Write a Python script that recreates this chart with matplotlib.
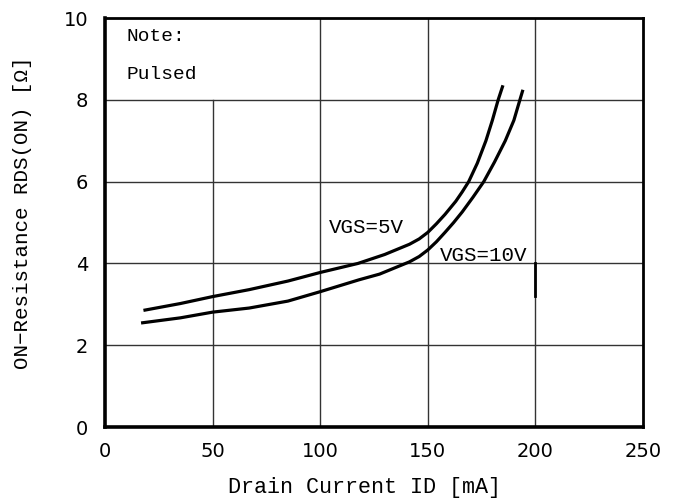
import matplotlib
matplotlib.use("Agg")
import matplotlib.pyplot as plt

# (VGS = 5 V, upper)
id_5v = [18.6, 35, 50, 67, 85, 100, 117.5, 130, 141.5, 146, 150, 154, 158, 163, 166, 169, 173, 177, 180, 182.7, 184.7]
r_5v = [2.86, 3.02, 3.19, 3.36, 3.57, 3.78, 4.00, 4.22, 4.47, 4.60, 4.76, 4.97, 5.20, 5.52, 5.75, 6.00, 6.45, 7.00, 7.50, 8.00, 8.32]

# VGS = 10 V, lower
id_10v = [17.5, 35, 50, 67, 85, 100, 118, 127.6, 141.5, 146, 150, 154, 158, 162, 166, 171, 176, 181, 186, 190, 192.8, 194]
r_10v = [2.55, 2.67, 2.81, 2.91, 3.08, 3.31, 3.60, 3.74, 4.04, 4.17, 4.33, 4.53, 4.76, 5.00, 5.26, 5.62, 6.00, 6.48, 7.00, 7.50, 8.00, 8.21]

x_ticks = [0, 50, 100, 150, 200, 250]
y_ticks = [0, 2, 4, 6, 8, 10]

mono = "Liberation Mono"

fig = plt.figure(figsize=(6.73, 5.03), dpi=100)
ax = fig.add_axes([0.156, 0.151, 0.7994, 0.813])

ax.set_xlim(0, 250)
ax.set_ylim(0, 10)

# grid drawn by hand, the x=50 line stops under the note box
gc = "#333333"
for yv in [2, 4, 6, 8]:
    ax.axhline(yv, color=gc, lw=1.0, zorder=1)
ax.axvline(50, ymax=0.8, color=gc, lw=1.0, zorder=1)
for xv in [100, 150, 200]:
    ax.axvline(xv, color=gc, lw=1.0, zorder=1)
ax.axvline(200, ymin=0.32, ymax=0.4, color="black", lw=2.0, zorder=1)

ax.plot(id_5v, r_5v, color="black", lw=2.3, zorder=3, solid_joinstyle="round")
ax.plot(id_10v, r_10v, color="black", lw=2.3, zorder=3, solid_joinstyle="round")

ax.text(104, 4.87, "VGS=5V", fontsize=15, family=mono, va="center", ha="left")
ax.text(155.5, 4.19, "VGS=10V", fontsize=15, family=mono, va="center", ha="left")

ax.text(10, 9.55, "Note:", fontsize=14, family=mono, va="center", ha="left")
ax.text(10, 8.62, "Pulsed", fontsize=14, family=mono, va="center", ha="left")

ax.set_xticks(x_ticks)
ax.set_yticks(y_ticks)
ax.tick_params(length=0, labelsize=14, pad=11)
ax.tick_params(axis="y", pad=12)

for s in ["left", "bottom"]:
    ax.spines[s].set_linewidth(2.6)
for s in ["top", "right"]:
    ax.spines[s].set_linewidth(2.0)

ax.set_xlabel("Drain Current ID [mA]", fontsize=15.7, family=mono, va="center")
ax.set_ylabel("ON\u2212Resistance RDS(ON) [\u03a9]", fontsize=15, family=mono, va="center")
ax.xaxis.set_label_coords(0.483, -0.149)
ax.yaxis.set_label_coords(-0.154, 0.523)

fig.savefig("out.png", dpi=100)
